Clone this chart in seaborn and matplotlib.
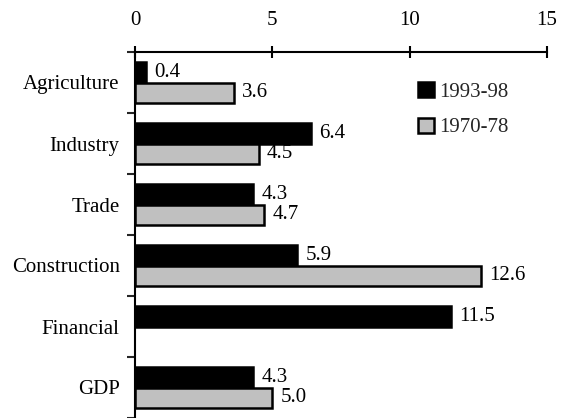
import numpy as np
import pandas as pd
import matplotlib
matplotlib.use("Agg")
import matplotlib.pyplot as plt
import seaborn as sns
from matplotlib.patches import Patch

categories = ["Agriculture", "Industry", "Trade", "Construction", "Financial", "GDP"]
series_names = ["1993-98", "1970-78"]
v_1993_98 = [0.4, 6.4, 4.3, 5.9, 11.5, 4.3]
v_1970_78 = [3.6, 4.5, 4.7, 12.6, np.nan, 5.0]
x_ticks = [0, 5, 10, 15]

df = pd.DataFrame({
    "sector": categories * 2,
    "period": [series_names[0]] * len(categories) + [series_names[1]] * len(categories),
    "value": v_1993_98 + v_1970_78,
})

sns.set_theme(style="white")
plt.rcParams["font.family"] = ["Liberation Serif", "DejaVu Serif"]
FS = 15

fig = plt.figure(figsize=(5.68, 4.18), dpi=100)
ax = fig.add_axes([135/568, 0.0, (547-135)/568, 1 - 52/418])

colors = {"1993-98": "#000000", "1970-78": "#c0c0c0"}
sns.barplot(data=df, y="sector", x="value", hue="period", hue_order=series_names,
            order=categories, palette=colors, orient="h", width=0.66,
            edgecolor="black", linewidth=1.8, ax=ax, legend=False)

# value labels
for i, (a, b) in enumerate(zip(v_1993_98, v_1970_78)):
    for val, off in ((a, -0.165), (b, 0.165)):
        if not np.isnan(val):
            ax.text(val + 0.3, i + off, f"{val:.1f}", va="center", ha="left",
                    fontsize=FS, color="black")

ax.set_xlim(0, 15)
ax.set_ylim(len(categories) - 0.5, -0.5)
ax.set_xticks(x_ticks)
ax.set_xticklabels([str(t) for t in x_ticks])
ax.xaxis.set_ticks_position("top")
ax.xaxis.set_label_position("top")
ax.tick_params(axis="x", direction="inout", length=9, width=1.5, pad=11,
               labelsize=FS, colors="black", top=True, bottom=False)

ax.set_yticks(np.arange(-0.5, len(categories), 1.0))
ax.set_yticklabels([])
ax.set_yticks(np.arange(len(categories)), minor=True)
ax.set_yticklabels(categories, minor=True)
ax.tick_params(axis="y", which="major", direction="out", length=6, width=1.5, left=True)
ax.tick_params(axis="y", which="minor", length=0, pad=11, labelsize=FS, colors="black")

ax.set_xlabel("")
ax.set_ylabel("")
for s in ["right", "bottom"]:
    ax.spines[s].set_visible(False)
for s in ["top", "left"]:
    ax.spines[s].set_visible(True)
    ax.spines[s].set_linewidth(1.5)
    ax.spines[s].set_color("black")
ax.grid(False)

handles = [Patch(facecolor=colors[n], edgecolor="black", linewidth=1.8, label=n) for n in series_names]
fig.legend(handles=handles, loc="upper left", bbox_to_anchor=(418/568, 1 - 82/418),
           frameon=False, fontsize=FS, handlelength=0.75, handleheight=0.75,
           handletextpad=0.25, labelspacing=0.75, borderaxespad=0, borderpad=0)

fig.savefig("out.png", dpi=100)
